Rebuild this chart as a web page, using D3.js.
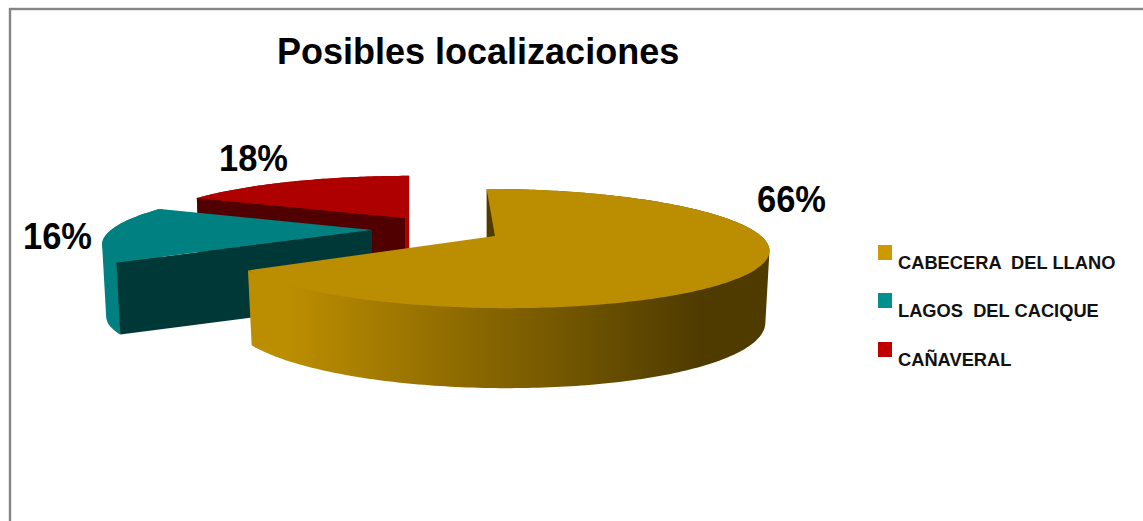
<!DOCTYPE html>
<html>
<head>
<meta charset="utf-8">
<script src="https://cdn.jsdelivr.net/npm/d3@7/dist/d3.min.js"></script>
<style>
  html, body { margin: 0; padding: 0; background: #fff; overflow: hidden; }
  svg { display: block; font-family: "Liberation Sans", Arial, sans-serif; }
</style>
</head>
<body>
<svg id="chart" width="1143" height="521"></svg>
<script>
// Chart content
const chartTitle = "Posibles localizaciones";
const categories = ["CABECERA  DEL LLANO", "LAGOS  DEL CACIQUE", "CAÑAVERAL"];
const shares = [66, 16, 18];
const legendColors = ["#CC9900", "#009090", "#C00000"];
const topColors = ["#BB8D00", "#008080", "#AF0000"];
const cutColors = ["#4F3B00", "#003737", "#500000"];

// Where each exploded wedge sits and how the tilted disc is projected onto it
const sliceFrames = [
  { ax: 495, ay: 236, rx: 266, ry: 57, shear: 10, depthFar: 69, depthNear: 80 },
  { ax: 372, ay: 230, rx: 261, ry: 54, shear: -12, depthFar: 72, depthNear: 72 },
  { ax: 405, ay: 218, rx: 253, ry: 51, shear: -5, depthFar: 72, depthNear: 72 }
];
const tilt = 0.21;       // perspective strength: the far rim shrinks, the near rim grows
const baseScale = 0.985; // the lower rim is a little narrower

const labelAnchors = [[757, 212], [23, 249], [219, 171]];
const labelWidth = 69;
const legendX = 878;
const legendRows = [245, 293, 342];

const svg = d3.select("#chart");
const arcs = d3.pie().sort(null).startAngle(0).endAngle(2 * Math.PI)(shares);
const line = d3.line();

// Projects an angle (clockwise from 12 o'clock) on a slice's unit circle to the page
function project(frame, angle, radius = 1) {
  const u = Math.sin(angle) * radius;
  const v = -Math.cos(angle) * radius;
  const w = 1 - tilt * v;
  return [frame.ax + (frame.rx * u + frame.shear * v) / w, frame.ay + frame.ry * v / w];
}
// Matching point on the lower rim; the wall reads taller toward the viewer
function lower(frame, p, angle) {
  const v = angle === undefined ? 0 : Math.max(0, -Math.cos(angle));
  const h = frame.depthFar + (frame.depthNear - frame.depthFar) * v;
  return [frame.ax + (p[0] - frame.ax) * baseScale, p[1] + h];
}
function angles(a0, a1) {
  const n = Math.max(8, Math.ceil((a1 - a0) * 60));
  return d3.range(n + 1).map(i => a0 + (a1 - a0) * i / n);
}
// The wall as a run of small quads of one winding, so it keeps its silhouette where the rim turns back.
// Its upper edge starts a little inside the rim to leave no seam under the top face.
function wallPath(frame, a0, a1) {
  const quad = pts => line(d3.polygonArea(pts) < 0 ? pts.slice().reverse() : pts) + "Z";
  const as = angles(a0, a1);
  return d3.pairs(as).map(([p, q]) => {
    const ao = project(frame, p), bo = project(frame, q);
    const ai = project(frame, p, 0.985), bi = project(frame, q, 0.985);
    const la = lower(frame, ao, p), lb = lower(frame, bo, q);
    return quad([ao, bo, lb, la]) + quad([ai, bi, lb, la]);
  }).join("");
}

const defs = svg.append("defs");
const wall = defs.append("linearGradient")
  .attr("id", "goldWall")
  .attr("gradientUnits", "userSpaceOnUse")
  .attr("x1", 290).attr("x2", 700).attr("y1", 0).attr("y2", 0);
[[0, "#BB8D00"], [1, "#4F3B00"]].forEach(([o, c]) =>
  wall.append("stop").attr("offset", o).attr("stop-color", c));

// Outer frame
svg.append("rect")
  .attr("x", 10).attr("y", 9).attr("width", 1200).attr("height", 600)
  .attr("fill", "#fff").attr("stroke", "#858585").attr("stroke-width", 2.4);

// Title
svg.append("text")
  .attr("x", 277).attr("y", 64)
  .attr("font-size", 36).attr("font-weight", 700).attr("fill", "#000")
  .text(chartTitle);

// Wedges, back to front
[2, 1, 0].forEach(i => {
  const f = sliceFrames[i], d = arcs[i];
  const rimAngles = angles(d.startAngle, d.endAngle);
  const top = rimAngles.map(a => project(f, a));
  const apex = [f.ax, f.ay];
  const g = svg.append("g");

  // curved outer wall
  g.append("path")
    .attr("d", wallPath(f, d.startAngle, d.endAngle))
    .attr("fill", i === 0 ? "url(#goldWall)" : topColors[i]);

  if (i === 0) {
    // sliver of the rear cut face seen beside the 12 o'clock edge
    const back = top[0];
    g.append("path")
      .attr("d", line([back, apex, [back[0], apex[1] + 2], [back[0], back[1] + 20]]) + "Z")
      .attr("fill", cutColors[0]);
  } else {
    // cut face running along the first edge of the wedge
    const cutEdge = top[0];
    g.append("path")
      .attr("d", line([cutEdge, apex, lower(f, apex), lower(f, cutEdge, d.startAngle)]) + "Z")
      .attr("fill", cutColors[i]);
  }
  if (i === 2) {
    // narrow lit strip on the 12 o'clock side of the rear wedge
    const edge = top[top.length - 1];
    g.append("path")
      .attr("d", line([edge, [edge[0], edge[1] + f.depthFar], lower(f, apex), apex]) + "Z")
      .attr("fill", topColors[2]);
  }

  // top face
  g.append("path")
    .attr("d", line([apex].concat(top)) + "Z")
    .attr("fill", topColors[i]);
});

// Percentage labels
shares.forEach((s, i) => {
  svg.append("text")
    .attr("x", labelAnchors[i][0]).attr("y", labelAnchors[i][1])
    .attr("font-size", 37).attr("font-weight", 700).attr("fill", "#000")
    .attr("textLength", labelWidth).attr("lengthAdjust", "spacingAndGlyphs")
    .text(s + "%");
});

// Legend
categories.forEach((c, i) => {
  svg.append("rect")
    .attr("x", legendX).attr("y", legendRows[i])
    .attr("width", 14).attr("height", 15)
    .attr("fill", legendColors[i]);
  svg.append("text")
    .attr("x", legendX + 20).attr("y", legendRows[i] + 24)
    .attr("font-size", 18.3).attr("font-weight", 700).attr("fill", "#111")
    .style("white-space", "pre")
    .text(c);
});
</script>
</body>
</html>
